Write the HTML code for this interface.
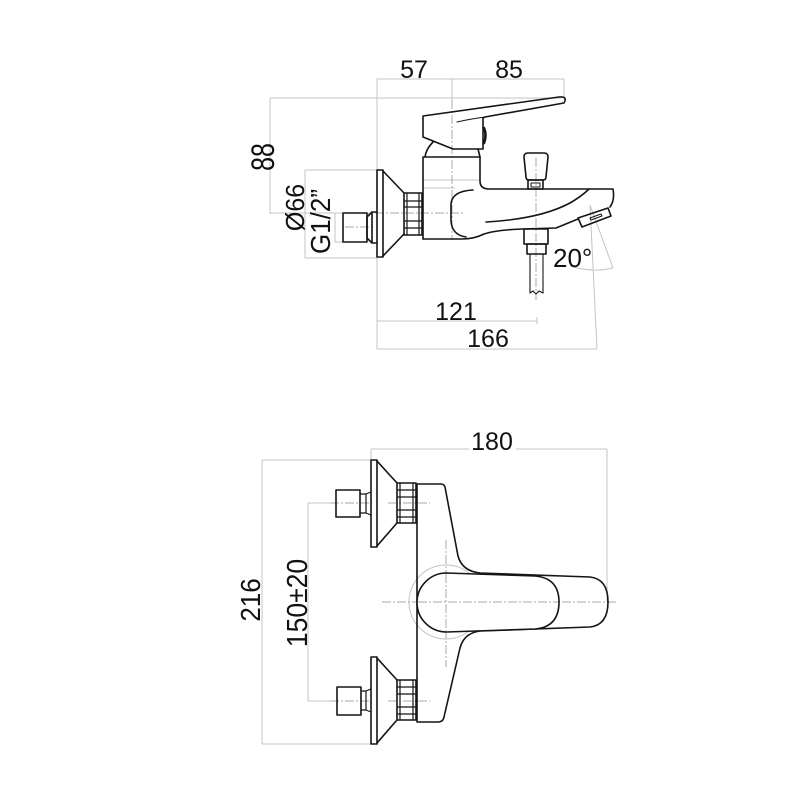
<!DOCTYPE html>
<html><head><meta charset="utf-8"><style>
html,body{margin:0;padding:0;background:#fff;}
svg{display:block;}
text{font-family:"Liberation Sans",Arial,sans-serif;fill:#111;}
</style></head><body>
<svg width="800" height="800" viewBox="0 0 800 800" xmlns="http://www.w3.org/2000/svg">
<!-- gray dimension / extension lines -->
<g stroke="#c4c4c4" stroke-width="1" fill="none">
 <path d="M377,79H564 M377,79V349 M452,79V100 M564,79V100 M270,98H562 M270,98V214 M270,213H343 M305,170V258 M305,170H377 M305,258H377 M335,213V242 M335,213H343 M335,242H343 M377,321H537 M537,317V324 M377,349H597 M590,205L597,349 M590,205L613,268 M570,266Q592,273 613,268"/>
 <path d="M423,180H480 M423,188H455"/>
 <path d="M371,449H469 M516,449H607 M371,449V460 M607,449V602 M262,460V744 M262,460H371 M262,744H371 M308,503V701 M308,503H336 M308,701H337"/>
 <circle cx="446" cy="602" r="37"/>
</g>
<g stroke="#aaaaaa" stroke-width="1" fill="none" stroke-dasharray="9,2,2,2">
 <path d="M452,100V240 M345,213H463 M345,227H373 M536,158V300 M382,602H618 M446,540V667 M388,503H430 M330,503H372 M388,701H430 M330,701H372"/>
</g>

<!-- black drawing -->
<g stroke="#151515" stroke-width="1.6" fill="none" stroke-linejoin="round" stroke-linecap="round">
 <!-- TOP VIEW -->
 <rect x="377" y="170" width="6" height="87"/>
 <path d="M383,171L404,193 M383,256L404,234"/>
 <rect x="404" y="193" width="18" height="42"/>
 <path d="M407,193V235 M419,193V235 M404,201H422 M404,207H422 M404,221H422 M404,228H422" stroke-width="1.2"/>
 <rect x="343" y="213" width="24" height="29"/>
 <path d="M367,217L372,212H377 M367,238L372,243H377 M372,212V243 M367,217V238"/>
 <!-- body -->
 <path d="M423,157V239 M423,157H480V181Q480,189 489,189H613Q615,200 610,207"/>
 <path d="M578,219L556,228L522,229Q496,230 484,234Q474,239 462,239H423"/>
 <path d="M473,190Q452,191 451,204V221Q452,235 466,237"/>
 <path d="M486,222Q540,219 570,203Q582,196 589,189"/>
 <polygon points="578,218 608,208 611,216 582,227"/>
 <polygon points="590,218 601,214 602,216 591,220" stroke-width="1"/>
 <!-- lever -->
 <path d="M423,116L559,97Q568,96 564,103L485,117L483,118V149H453L423,137Z"/>
 <path d="M457,122Q470,119 485,117" stroke-width="1"/>
 <path d="M484,128Q487,135 484,143" stroke-width="2.6"/>
 <path d="M433,142Q426,149 425,157 M478,149L480,157"/>
 <!-- knob -->
 <path d="M524,157Q524,153 528,153H544Q548,153 548,157L546,177Q546,180 543,180H529Q526,180 526,177Z"/>
 <rect x="528" y="180" width="15" height="9"/>
 <rect x="531" y="183" width="9" height="4" stroke-width="1"/>
 <!-- shower outlet -->
 <rect x="524" y="229" width="24" height="15"/>
 <rect x="527" y="244" width="19" height="10"/>
 <path d="M530,254V293 M543,254V293 M530,293l3,-2 3,3 3,-3 4,2" stroke-width="1.1"/>

 <!-- BOTTOM VIEW valves -->
 <g>
  <rect x="371" y="460" width="6" height="87"/>
  <path d="M377,461L397,483 M377,546L397,523"/>
  <rect x="397" y="483" width="19" height="40"/>
  <path d="M400,483V523 M413,483V523 M397,490H416 M397,497H416 M397,510H416 M397,517H416" stroke-width="1.2"/>
  <rect x="336" y="490" width="24" height="27"/>
  <path d="M360,494H366V513H360 M366,494L371,492 M366,513L371,515 M366,494V513" stroke-width="1.2"/>
 </g>
 <g transform="translate(0,197)">
  <rect x="371" y="460" width="6" height="87"/>
  <path d="M377,461L397,483 M377,546L397,523"/>
  <rect x="397" y="483" width="19" height="40"/>
  <path d="M400,483V523 M413,483V523 M397,490H416 M397,497H416 M397,510H416 M397,517H416" stroke-width="1.2"/>
  <rect x="337" y="490" width="24" height="28"/>
  <path d="M361,494H366V513H361 M366,494L371,492 M366,513L371,515" stroke-width="1.2"/>
 </g>
 <!-- body -->
 <path d="M417,484V722 M417,484H441Q444,484 445,487L458,556Q462,571 480,573L590,577Q608,579 608,602Q608,625 590,627L480,631Q464,633 460,648L444,717Q443,722 438,722H417"/>
 <path d="M446.5,573L535,576Q559,578 559,602Q559,627 535,629L446.5,632A29.5,29.5 0 0 1 446.5,573Z" fill="#fff"/>
</g>
<g stroke="#aaaaaa" stroke-width="1" fill="none" stroke-dasharray="9,2,2,2">
 <path d="M418,602H558 M446,574V631"/>
</g>

<!-- texts -->
<text x="414" y="78" font-size="25" text-anchor="middle">57</text>
<text x="509" y="78" font-size="25" text-anchor="middle">85</text>
<text x="456" y="320" font-size="25" text-anchor="middle">121</text>
<text x="488" y="347" font-size="25" text-anchor="middle">166</text>
<text x="553" y="267" font-size="26">20°</text>
<text x="492" y="450" font-size="25" text-anchor="middle">180</text>
<text transform="translate(274,157) rotate(-90) scale(1,1.28)" font-size="25" text-anchor="middle">88</text>
<text transform="translate(304,207.5) rotate(-90) scale(1,1.05)" font-size="25" text-anchor="middle">Ø66</text>
<text transform="translate(330,221.5) rotate(-90) scale(1,1.07)" font-size="26" text-anchor="middle">G1/2”</text>
<text transform="translate(260,600) rotate(-90) scale(1,1.07)" font-size="26" text-anchor="middle">216</text>
<text transform="translate(307,603) rotate(-90) scale(1,1.07)" font-size="26.5" text-anchor="middle">150±20</text>
</svg>
</body></html>
